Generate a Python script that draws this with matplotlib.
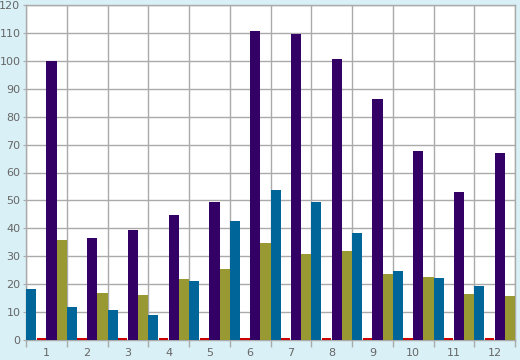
import numpy as np
import matplotlib
matplotlib.use('Agg')
import matplotlib.pyplot as plt

categories = ["1", "2", "3", "4", "5", "6", "7", "8", "9", "10", "11", "12"]
teal_values = [18.3, 11.8, 10.8, 9.0, 21.1, 42.6, 53.8, 49.5, 38.4, 24.7, 22.2, 19.4]
red_values = [0] * 12
purple_values = [100.0, 36.6, 39.4, 44.8, 49.5, 110.7, 109.7, 100.6, 86.4, 67.7, 53.0, 67.0]
olive_values = [35.8, 16.8, 16.1, 21.9, 25.4, 34.8, 30.8, 31.9, 23.7, 22.6, 16.5, 15.8]

series = [
	(teal_values, "#006699"),
	(red_values, "#cc0000"),
	(purple_values, "#330066"),
	(olive_values, "#999933"),
]

BG = "#d9f0f7"
GRID = "#aaaaaa"
TEXT = "#666666"

fig = plt.figure(figsize=(5.2, 3.6), dpi=100, facecolor=BG)
ax = fig.add_axes([26 / 520, 20 / 360, 489 / 520, 335 / 360])
ax.set_facecolor("white")

n = len(categories)
width = 1.0 / len(series)
idx = np.arange(n)
for k, (vals, color) in enumerate(series):
	pos = idx + width * (k + 0.5)
	if max(vals) == 0:
		# zero values show as a thin line on the baseline
		ax.bar(pos, [0.8] * n, width=width * 0.9, color=color, linewidth=0, zorder=4)
	else:
		ax.bar(pos, vals, width=width, color=color, linewidth=0, zorder=3)

ax.set_xlim(0, n)
ax.set_ylim(0, 120)
ax.set_yticks(np.arange(0, 121, 10))
ax.set_xticks(idx + 0.5)
ax.set_xticklabels(categories)
ax.set_xticks(np.arange(0, n + 1), minor=True)

ax.grid(True, which="minor", axis="x", color=GRID, linewidth=1, zorder=0)
ax.grid(True, which="major", axis="y", color=GRID, linewidth=1, zorder=0)
ax.tick_params(axis="x", which="major", length=0, pad=6, labelsize=8, labelcolor=TEXT)
ax.tick_params(axis="x", which="minor", length=5, color=GRID, width=1)
ax.tick_params(axis="y", length=2, color=GRID, pad=2, labelsize=8, labelcolor=TEXT)

for side in ["left", "right", "top", "bottom"]:
	ax.spines[side].set_color(GRID)
	ax.spines[side].set_linewidth(1)
	ax.spines[side].set_zorder(2)

plt.savefig("out.png", dpi=100, facecolor=BG)
